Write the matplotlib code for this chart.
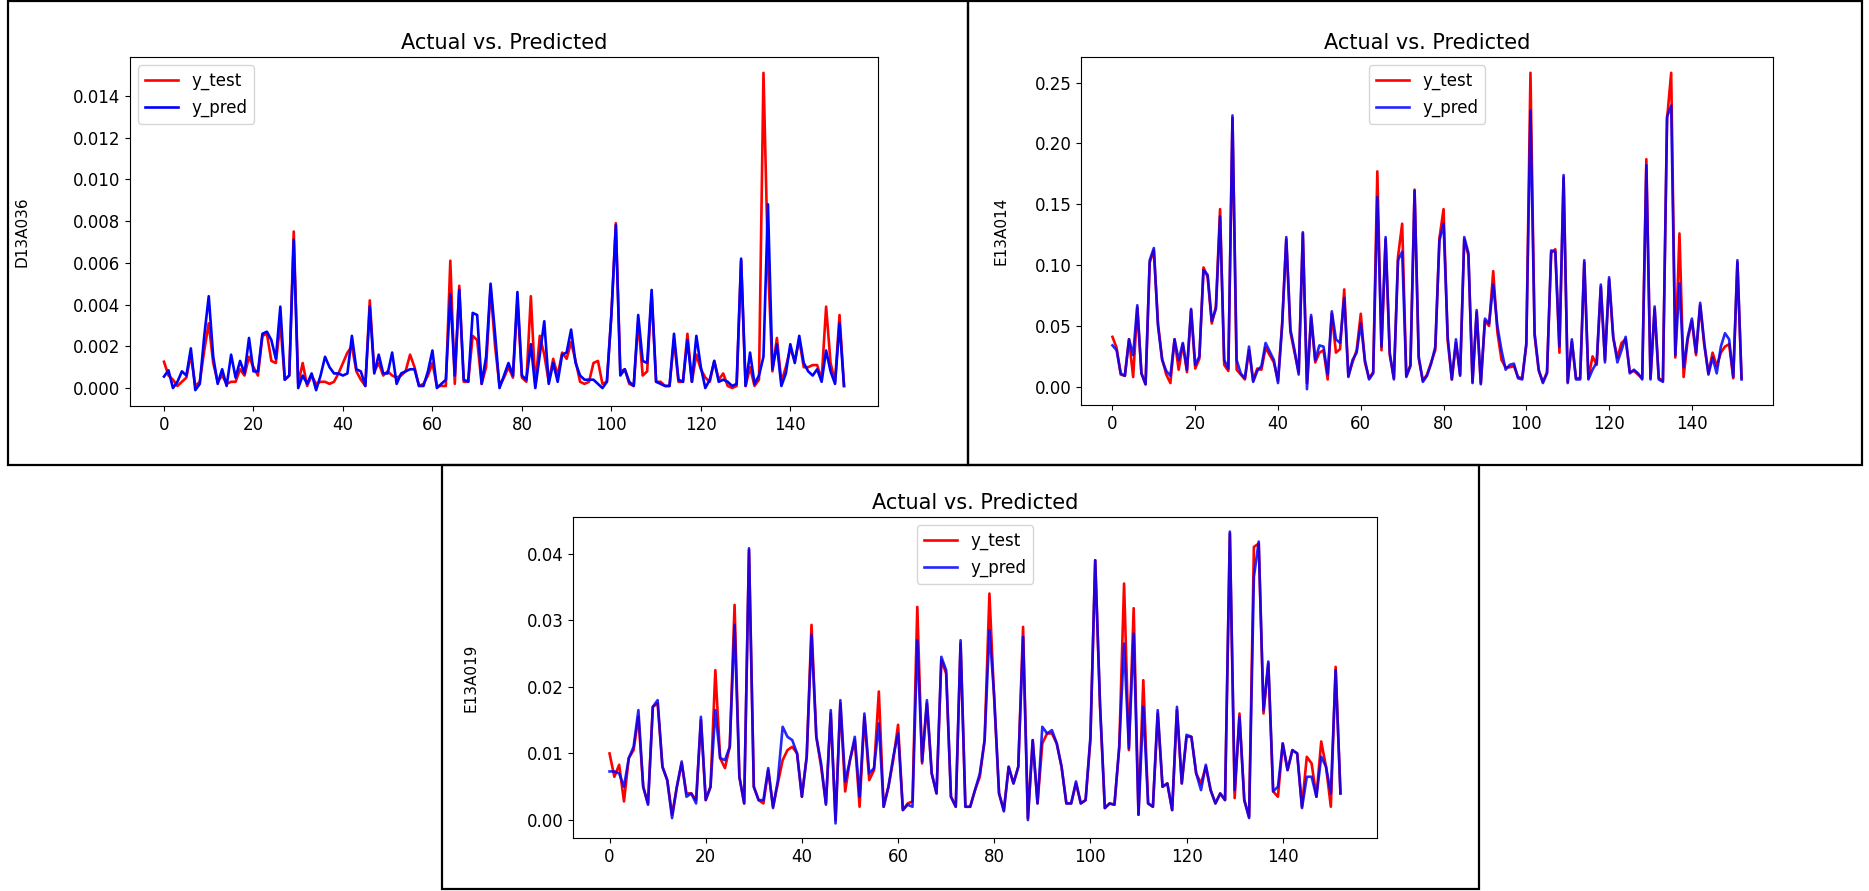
import numpy as np
import matplotlib
matplotlib.use('Agg')
import matplotlib.pyplot as plt
from matplotlib.patches import Rectangle

# panel 1: D13A036 (values x 1e-3)
d13_test = [1.26, 0.6, 0.4, 0.1, 0.3, 0.5, 1.6, 0.1, 0.3, 1.8,
            3.1, 1.2, 0.3, 0.6, 0.2, 0.3, 0.3, 0.9, 0.6, 1.5,
            1.0, 0.6, 2.5, 2.6, 1.3, 1.2, 3.1, 0.4, 0.6, 7.5,
            0.2, 1.2, 0.1, 0.6, 0.2, 0.3, 0.3, 0.2, 0.3, 0.7,
            1.2, 1.7, 2.0, 0.8, 0.4, 0.1, 4.2, 0.8, 1.2, 0.6,
            0.8, 0.6, 0.5, 0.6, 0.8, 1.6, 1.0, 0.1, 0.2, 0.6,
            1.2, 0.1, 0.1, 0.1, 6.1, 0.2, 4.9, 0.3, 0.3, 2.5,
            2.3, 0.2, 1.0, 4.8, 2.0, 0.1, 0.5, 1.0, 0.5, 4.2,
            0.5, 0.3, 4.4, 0.1, 2.5, 1.6, 0.3, 1.4, 0.6, 1.7,
            1.4, 2.2, 1.3, 0.3, 0.2, 0.3, 1.2, 1.3, 0.2, 0.3,
            3.5, 7.9, 0.8, 0.9, 0.2, 0.1, 3.2, 0.6, 0.8, 4.5,
            0.3, 0.3, 0.1, 0.1, 2.3, 0.3, 0.3, 2.6, 0.3, 1.6,
            0.9, 0.5, 0.3, 1.3, 0.4, 0.7, 0.1, 0.0, 0.1, 6.1,
            0.1, 1.0, 0.1, 0.4, 15.1, 6.0, 0.8, 2.4, 0.3, 1.0,
            1.9, 1.3, 2.3, 1.0, 1.0, 1.1, 1.1, 0.4, 3.9, 1.2,
            0.3, 3.5, 0.1]
d13_pred = [0.55, 0.85, 0.0, 0.3, 0.8, 0.6, 1.9, -0.1, 0.2, 2.5,
            4.4, 1.5, 0.2, 0.9, 0.1, 1.6, 0.5, 1.3, 0.7, 2.4,
            0.8, 0.8, 2.6, 2.7, 2.3, 1.4, 3.9, 0.4, 0.6, 7.1,
            0.0, 0.6, 0.2, 0.7, -0.1, 0.6, 1.5, 1.0, 0.7, 0.7,
            0.6, 0.7, 2.5, 0.9, 0.8, 0.1, 3.9, 0.7, 1.6, 0.7,
            0.7, 1.7, 0.2, 0.7, 0.8, 0.9, 0.9, 0.1, 0.1, 0.8,
            1.8, 0.0, 0.2, 0.4, 4.5, 0.6, 4.7, 0.4, 0.3, 3.6,
            3.5, 0.2, 1.5, 5.0, 2.6, 0.0, 0.6, 1.2, 0.6, 4.6,
            0.6, 0.4, 2.1, 0.0, 1.6, 3.2, 0.2, 1.2, 0.3, 1.6,
            1.7, 2.8, 1.2, 0.6, 0.4, 0.4, 0.4, 0.2, 0.0, 0.3,
            3.5, 7.8, 0.6, 0.9, 0.3, 0.1, 3.5, 1.3, 1.2, 4.7,
            0.3, 0.2, 0.1, 0.1, 2.6, 0.4, 0.3, 2.3, 0.3, 2.5,
            1.0, 0.0, 0.4, 1.3, 0.3, 0.4, 0.3, 0.1, 0.2, 6.2,
            0.1, 1.7, 0.2, 0.6, 1.5, 8.8, 0.9, 2.1, 0.1, 0.7,
            2.1, 1.2, 2.5, 1.2, 0.8, 0.6, 0.9, 0.3, 1.8, 0.8,
            0.2, 3.1, 0.1]

# panel 2: E13A014 (values x 1e-2)
e14_test = [4.1, 3.2, 1.0, 0.9, 3.9, 0.8, 6.5, 1.1, 0.2, 10.2,
            11.2, 5.2, 2.3, 1.0, 0.3, 3.9, 1.4, 3.5, 1.2, 6.3,
            1.5, 2.3, 9.8, 9.0, 5.2, 6.6, 14.6, 1.8, 1.3, 22.1,
            1.4, 1.0, 0.6, 3.0, 0.5, 1.5, 1.4, 3.2, 2.6, 2.0,
            0.5, 5.2, 12.1, 4.5, 2.8, 1.2, 12.6, 0.3, 5.7, 2.0,
            2.8, 3.0, 0.6, 6.0, 2.8, 3.1, 8.0, 0.9, 2.0, 3.0,
            6.0, 2.0, 0.7, 1.2, 17.7, 3.0, 12.1, 2.6, 0.7, 10.7,
            13.4, 0.9, 1.8, 16.2, 2.3, 0.5, 1.0, 2.0, 3.0, 12.2,
            14.6, 3.8, 0.6, 3.6, 1.0, 12.1, 10.8, 0.4, 6.1, 0.3,
            5.4, 5.0, 9.5, 4.5, 2.2, 1.6, 1.6, 1.7, 0.8, 0.7,
            3.4, 25.8, 4.2, 1.3, 0.4, 1.2, 11.0, 11.3, 2.8, 17.2,
            0.4, 3.7, 0.7, 0.7, 10.2, 0.7, 2.5, 1.8, 8.2, 2.2,
            8.8, 4.0, 2.4, 3.6, 3.9, 1.2, 1.3, 1.0, 0.7, 18.7,
            0.7, 6.4, 0.7, 0.5, 22.0, 25.8, 2.4, 12.6, 0.8, 3.9,
            5.4, 2.6, 6.7, 3.4, 1.1, 2.8, 1.7, 2.8, 3.3, 3.5,
            0.7, 10.2, 0.7]
e14_pred = [3.4, 3.0, 1.1, 0.9, 3.9, 2.6, 6.7, 1.1, 0.2, 10.4,
            11.4, 5.0, 2.2, 1.3, 0.9, 3.9, 2.2, 3.6, 1.4, 6.4,
            1.8, 2.5, 9.6, 9.2, 5.4, 6.4, 14.0, 2.2, 1.5, 22.3,
            2.2, 1.1, 0.7, 3.3, 0.4, 1.3, 1.7, 3.6, 2.9, 2.2,
            0.3, 5.0, 12.3, 4.7, 3.0, 1.0, 12.7, -0.2, 5.9, 2.2,
            3.4, 3.3, 1.0, 6.2, 3.9, 3.6, 7.3, 0.8, 2.2, 2.8,
            5.2, 2.2, 0.6, 1.1, 15.6, 3.3, 12.3, 2.8, 0.6, 10.4,
            11.1, 0.8, 1.7, 16.1, 2.5, 0.4, 0.9, 1.9, 3.3, 12.0,
            13.4, 4.1, 0.6, 3.9, 0.9, 12.3, 11.0, 0.3, 6.3, 0.2,
            5.6, 5.2, 8.4, 5.0, 3.0, 1.4, 1.8, 1.9, 0.7, 0.6,
            3.6, 22.7, 4.4, 1.4, 0.3, 1.1, 11.2, 11.1, 3.3, 17.4,
            0.3, 3.9, 0.6, 0.6, 10.4, 0.6, 1.4, 2.0, 8.4, 2.0,
            9.0, 4.1, 2.0, 3.0, 4.1, 1.1, 1.4, 1.1, 0.6, 18.2,
            0.6, 6.6, 0.6, 0.4, 22.2, 23.1, 2.6, 8.5, 1.6, 4.1,
            5.6, 2.8, 6.9, 3.6, 1.0, 2.4, 1.1, 3.3, 4.4, 3.9,
            0.8, 10.4, 0.6]

# panel 3: E13A019 (values x 1e-3)
e19_test = [10.0, 6.5, 8.3, 2.8, 9.3, 10.5, 15.5, 5.0, 2.5, 17.0,
            17.5, 8.0, 6.0, 0.8, 5.0, 8.5, 4.0, 4.0, 3.0, 15.0,
            3.0, 5.0, 22.5, 9.3, 7.8, 11.0, 32.3, 6.5, 2.5, 40.5,
            5.0, 3.0, 2.5, 7.5, 2.0, 5.5, 9.0, 10.5, 11.0, 10.0,
            3.5, 9.5, 29.3, 12.5, 8.0, 2.5, 16.0, 0.0, 17.5, 4.3,
            9.0, 12.0, 2.0, 15.5, 6.0, 7.5, 19.3, 2.0, 5.0, 9.0,
            14.3, 1.5, 2.5, 2.8, 32.0, 8.5, 17.5, 7.0, 4.0, 24.0,
            22.0, 3.5, 2.0, 26.5, 2.0, 2.0, 4.5, 6.5, 12.0, 34.0,
            18.0, 4.0, 1.5, 8.0, 5.5, 8.0, 29.0, 0.3, 12.0, 2.5,
            11.5, 13.0, 13.0, 11.5, 8.0, 2.5, 2.5, 5.5, 2.5, 3.0,
            12.0, 39.0, 17.0, 1.8, 2.5, 2.3, 11.0, 35.5, 10.5, 31.8,
            0.8, 21.0, 2.5, 2.0, 16.0, 5.0, 5.5, 1.5, 16.5, 5.5,
            12.5, 12.5, 7.0, 5.5, 8.0, 4.5, 2.5, 4.0, 3.0, 43.0,
            3.3, 16.0, 3.0, 0.5, 41.0, 41.5, 16.0, 23.5, 4.3, 3.5,
            11.5, 7.5, 10.5, 10.0, 2.0, 9.5, 8.5, 3.5, 11.8, 8.0,
            2.0, 23.0, 4.0]
e19_pred = [7.3, 7.3, 7.0, 5.0, 9.3, 11.0, 16.5, 5.0, 2.3, 17.0,
            18.0, 8.0, 6.0, 0.3, 5.0, 8.8, 3.5, 4.0, 2.5, 15.5,
            3.0, 5.0, 16.5, 9.3, 9.0, 11.0, 29.3, 6.5, 2.5, 40.8,
            5.0, 3.0, 3.0, 7.8, 1.8, 6.0, 14.0, 12.5, 12.0, 10.0,
            3.5, 9.5, 27.8, 12.5, 8.5, 2.3, 16.5, -0.5, 18.0, 5.8,
            9.0, 12.5, 3.5, 16.0, 7.0, 7.8, 14.5, 2.0, 5.0, 9.5,
            13.0, 1.5, 2.3, 2.0, 27.0, 8.8, 18.0, 7.0, 4.0, 24.5,
            22.5, 3.5, 2.0, 27.0, 2.0, 2.0, 4.5, 7.0, 12.0, 28.5,
            18.5, 4.0, 1.3, 8.0, 5.5, 8.0, 27.5, 0.0, 12.0, 2.5,
            14.0, 13.0, 13.5, 11.5, 8.0, 2.5, 2.5, 5.8, 2.5, 3.0,
            12.5, 39.0, 17.5, 1.8, 2.5, 2.3, 11.0, 26.5, 10.8, 28.0,
            0.8, 17.0, 2.5, 2.0, 16.5, 5.0, 5.5, 1.5, 17.0, 5.5,
            12.8, 12.5, 7.0, 4.5, 8.3, 4.5, 2.5, 4.0, 3.0, 43.3,
            4.5, 15.5, 3.0, 0.3, 36.5, 41.8, 16.5, 23.8, 4.3, 5.0,
            11.5, 7.5, 10.5, 10.0, 1.8, 6.5, 6.5, 3.5, 9.5, 8.0,
            4.0, 22.5, 4.0]

panels = [
    # test, pred, scale, ylabel, legend loc, axes box (px l, t, r, b), label x, pred alpha
    (d13_test, d13_pred, 1e-3, 'D13A036', 'upper left', (130, 57, 878, 406), -0.135, 1.0),
    (e14_test, e14_pred, 1e-2, 'E13A014', 'upper center', (1081, 57, 1773, 405), -0.105, 0.85),
    (e19_test, e19_pred, 1e-3, 'E13A019', 'upper center', (573, 517, 1377, 838), -0.118, 0.85),
]
frames = [(8, 1, 968, 465), (968, 1, 1862, 465), (442, 465, 1479, 889)]

W, H = 1869, 891
fig = plt.figure(figsize=(W / 100, H / 100), dpi=100)

for l, t, r, b in frames:
    fig.patches.append(Rectangle((l / W, 1 - b / H), (r - l) / W, (b - t) / H,
                                 transform=fig.transFigure, fill=False,
                                 edgecolor='black', linewidth=1.6))

for test, pred, scale, ylab, loc, box, labx, alpha in panels:
    l, t, r, b = box
    ax = fig.add_axes([l / W, 1 - b / H, (r - l) / W, (b - t) / H])
    x = np.arange(len(test))
    ax.plot(x, np.array(test) * scale, color='red', lw=1.9, label='y_test')
    ax.plot(x, np.array(pred) * scale, color='blue', lw=1.9, alpha=alpha, label='y_pred')
    ax.set_xticks(np.arange(0, 141, 20))
    ax.tick_params(labelsize=12)
    ax.set_title('Actual vs. Predicted', fontsize=15)
    ax.set_ylabel(ylab, fontsize=11)
    ax.yaxis.set_label_coords(labx, 0.5)
    ax.legend(loc=loc, fontsize=12)

plt.savefig('out.png', dpi=100)
